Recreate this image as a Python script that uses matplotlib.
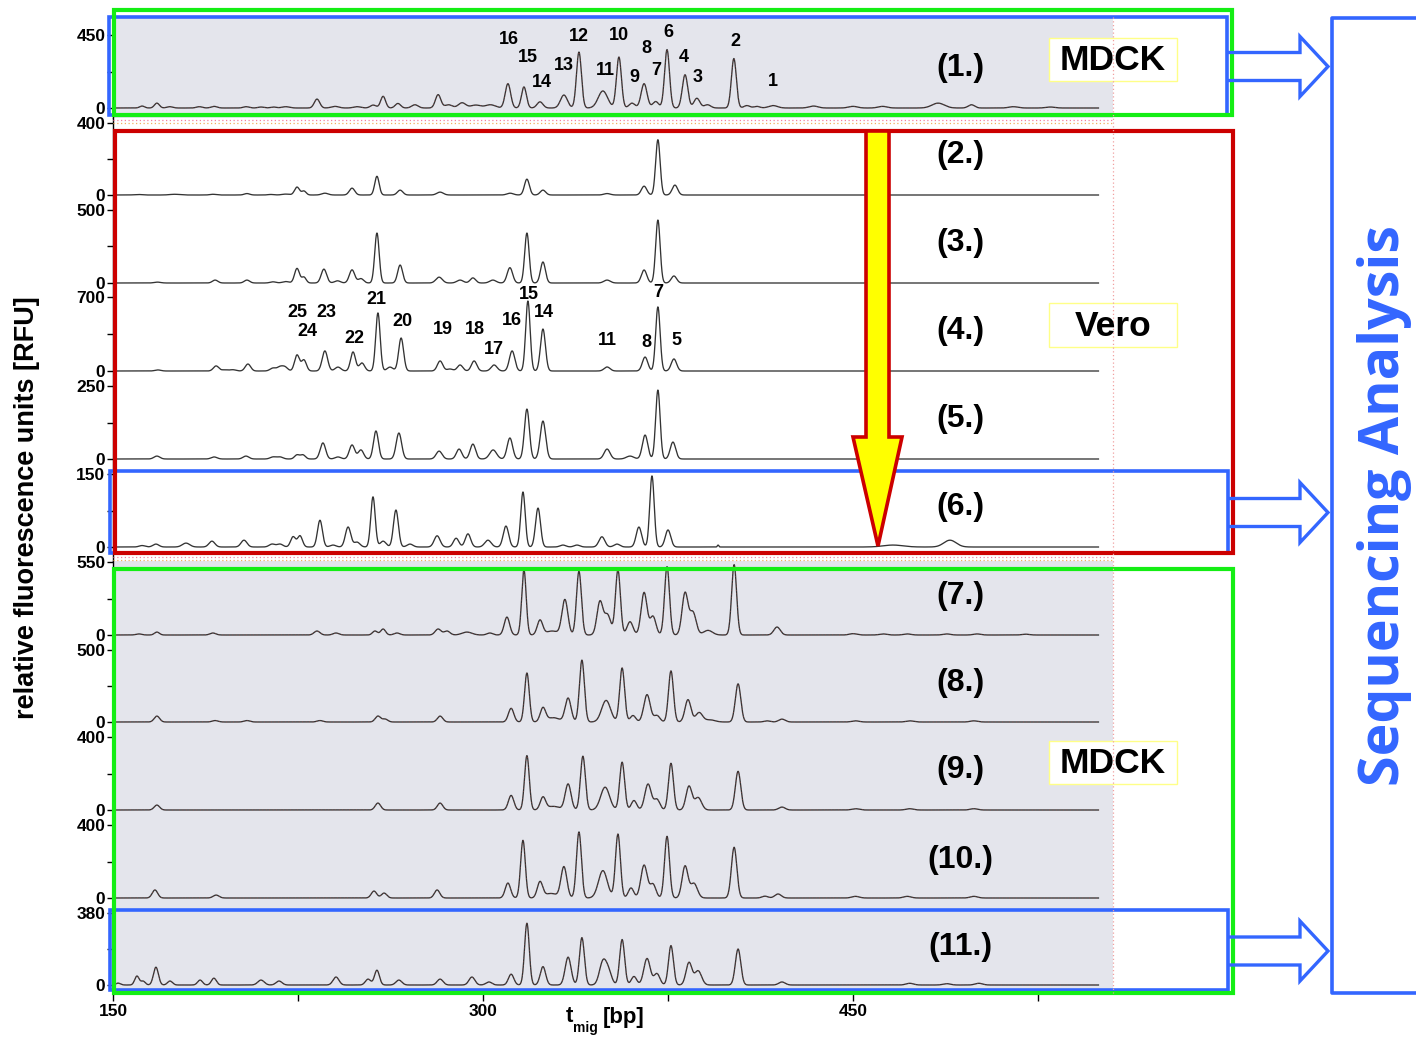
import numpy as np
import matplotlib
matplotlib.use('Agg')
import matplotlib.pyplot as plt
from matplotlib.patches import Rectangle, Polygon

plt.rcParams['font.family'] = ['Liberation Sans', 'DejaVu Sans']
plt.rcParams['font.weight'] = 'bold'

W, H = 1416, 1039

# ---------------- data ----------------
x_ticks = [150, 300, 450]
x_minor = [225, 375, 525]
x_end = 549.5

panel_names = ['(1.)', '(2.)', '(3.)', '(4.)', '(5.)', '(6.)',
               '(7.)', '(8.)', '(9.)', '(10.)', '(11.)']
y_max = [450, 400, 500, 700, 250, 150, 550, 500, 400, 400, 380]
cell_line = ['MDCK', 'Vero', 'Vero', 'Vero', 'Vero', 'Vero',
             'MDCK', 'MDCK', 'MDCK', 'MDCK', 'MDCK']

# peaks: (size [bp], height [RFU], width [bp])
peaks_1 = [(161.8, 12, 1.0), (167.8, 30, 1.0), (173, 8, 1.2), (185, 8, 1.2), (191, 10, 1.2),
           (204, 8, 1.2), (210, 6, 1.2), (215, 6, 1.2), (220, 8, 1.5), (232.7, 55, 1.1),
           (240, 10, 1.5), (249, 8, 1.5), (255.5, 18, 1.2), (259.5, 72, 1.0), (265.5, 28, 1.1),
           (272.4, 20, 1.3), (281.8, 82, 1.1), (286, 20, 1.5), (291.5, 32, 1.5), (297, 18, 2.0),
           (303, 20, 2.0), (310.1, 150, 1.1), (316.6, 130, 1.0), (323.1, 38, 1.2), (332.8, 80, 1.4),
           (338.9, 345, 1.0), (348.6, 105, 1.9), (355.1, 314, 1.0), (360.4, 30, 1.2), (365.3, 150, 1.2),
           (370, 40, 1.2), (374.6, 360, 1.0), (381.9, 205, 1.1), (386.7, 60, 1.2), (391, 20, 1.3),
           (401.7, 305, 1.0), (407, 15, 1.2), (411, 10, 1.2), (417.6, 15, 1.8), (434, 12, 1.8),
           (450, 10, 1.8), (462, 10, 1.8), (484.5, 30, 2.5), (498, 20, 1.3), (515, 8, 1.8), (530, 6, 1.8)]
peaks_2 = [(160, 3, 1.5), (175, 4, 2.0), (190.5, 4, 1.2), (204.3, 8, 1.1), (214, 3, 1.2), (220, 5, 1.5),
           (224.6, 44, 1.0), (227.4, 22, 0.9), (235.9, 10, 1.3), (246.9, 38, 1.1), (257.0, 104, 0.9),
           (266.4, 27, 1.1), (282.6, 16, 1.3), (311.0, 10, 1.3), (317.8, 88, 1.0), (324.3, 27, 1.1),
           (350.3, 8, 1.3), (365.3, 49, 1.1), (370.9, 307, 0.9), (377.8, 55, 1.1)]
peaks_3 = [(168, 6, 1.3), (191.4, 20, 1.1), (204.3, 20, 1.1), (214.9, 8, 1.2), (220, 10, 1.3),
           (224.6, 100, 1.0), (227.4, 40, 0.9), (235.5, 95, 1.1), (241, 15, 1.2), (246.9, 90, 1.1),
           (250.5, 30, 1.1), (257.0, 342, 0.9), (266.4, 123, 1.0), (282.2, 40, 1.3), (290.7, 20, 1.3),
           (295.9, 35, 1.1), (304, 20, 1.3), (310.9, 105, 1.1), (317.8, 342, 0.9), (324.3, 144, 1.0),
           (350.3, 20, 1.3), (365.3, 89, 1.1), (370.9, 431, 0.9), (377.4, 48, 1.1)]
peaks_4 = [(168.2, 10, 1.2), (191.8, 48, 1.1), (195.4, 12, 1.2), (198.6, 12, 1.2), (204.7, 66, 1.1),
           (214.9, 28, 1.2), (217.7, 37, 1.1), (219.7, 37, 1.1), (224.6, 151, 1.0), (227.4, 104, 1.0),
           (235.9, 190, 1.1), (241.2, 37, 1.2), (247.3, 180, 1.0), (250.9, 76, 1.1), (257.4, 549, 0.9),
           (262.3, 37, 1.2), (266.8, 312, 1.0), (282.6, 95, 1.1), (286.6, 19, 1.2), (290.7, 57, 1.1),
           (296.4, 95, 1.1), (304.5, 57, 1.2), (311.8, 190, 1.1), (318.2, 662, 0.9), (324.3, 397, 1.0),
           (350.3, 38, 1.2), (365.7, 132, 1.1), (370.9, 606, 0.9), (377.4, 114, 1.1)]
peaks_5 = [(167.8, 10, 1.2), (191.0, 7, 1.2), (203.9, 10, 1.2), (214.9, 7, 1.2), (217.7, 7, 1.2),
           (224.6, 14, 1.0), (227.0, 14, 1.0), (235.1, 55, 1.1), (241.2, 7, 1.2), (246.9, 48, 1.1),
           (250.5, 31, 1.1), (256.6, 96, 1.0), (265.9, 89, 1.1), (282.2, 27, 1.2), (290.3, 34, 1.1),
           (295.9, 51, 1.1), (304.1, 31, 1.4), (310.9, 72, 1.1), (317.8, 171, 1.0), (324.3, 130, 1.1),
           (350.3, 34, 1.2), (359.6, 10, 1.5), (365.7, 82, 1.1), (370.9, 236, 0.9), (377.0, 58, 1.1)]
peaks_6 = [(161.8, 3, 1.2), (167.4, 6, 1.2), (179.6, 8, 1.5), (190.1, 12, 1.2), (203.1, 14, 1.2),
           (214.5, 6, 1.2), (217.7, 6, 1.2), (223.0, 21, 1.0), (225.8, 23, 1.0), (233.9, 55, 1.0),
           (239.2, 4, 1.2), (245.3, 41, 1.1), (248.9, 10, 1.2), (255.4, 103, 0.9), (259.5, 12, 1.2),
           (264.7, 76, 1.0), (270.4, 6, 1.2), (281.4, 23, 1.2), (289.1, 18, 1.1), (293.9, 27, 1.1),
           (302.0, 14, 1.3), (309.3, 43, 1.1), (316.2, 113, 0.9), (322.3, 80, 1.0), (332.4, 4, 1.2),
           (338.1, 4, 1.2), (348.2, 21, 1.2), (354.3, 6, 1.2), (363.2, 41, 1.1), (368.5, 146, 0.9),
           (375.0, 35, 1.1), (395.3, 4, 0.3), (466.2, 4, 4.0), (489.3, 14, 2.5)]
peaks_7 = [(160.5, 8, 1.2), (167.8, 22, 1.0), (190.5, 15, 1.2), (232.7, 30, 1.2), (240.4, 15, 1.2),
           (256.2, 30, 1.0), (259.5, 45, 1.0), (265.1, 15, 1.2), (281.8, 45, 1.2), (285.4, 30, 1.2),
           (293.5, 22, 2.0), (302.8, 15, 1.2), (309.7, 135, 1.1), (316.6, 490, 0.9), (323.1, 110, 1.1),
           (328, 30, 2.5), (333.2, 265, 1.2), (338.9, 480, 1.0), (347.4, 250, 1.2), (350.5, 150, 1.3),
           (354.7, 490, 1.0), (359.6, 100, 1.2), (365.3, 320, 1.2), (368.9, 140, 1.2), (374.6, 515, 1.0),
           (381.9, 315, 1.2), (385.1, 170, 1.3), (391.2, 35, 1.8), (401.8, 530, 1.0), (419.2, 60, 1.3),
           (450, 10, 1.5), (462.2, 8, 1.5), (472, 8, 1.5), (488, 8, 1.5), (500.3, 8, 1.5), (520, 6, 1.5)]
peaks_8 = [(167.8, 41, 1.1), (191.4, 10, 1.2), (204.3, 10, 1.2), (233.9, 10, 1.2), (257.4, 41, 1.1),
           (260.3, 20, 1.1), (282.6, 41, 1.1), (311.4, 95, 1.1), (317.8, 340, 0.95), (324.3, 95, 1.1),
           (328.5, 30, 2.5), (334.5, 165, 1.2), (340.1, 430, 1.0), (349.9, 150, 1.8), (356.4, 375, 1.0),
           (360.8, 45, 1.1), (366.5, 190, 1.3), (370.5, 45, 1.2), (376.2, 355, 1.0), (383.1, 155, 1.2),
           (387.6, 65, 1.4), (392, 15, 2.0), (403.4, 265, 1.1), (415.1, 8, 1.2), (421.2, 20, 1.3),
           (451, 8, 1.5), (473, 8, 1.5), (499, 8, 1.5)]
peaks_9 = [(167.8, 27, 1.1), (257.4, 38, 1.1), (282.6, 38, 1.1), (311.4, 80, 1.1), (317.8, 298, 0.95),
           (324.3, 68, 1.1), (328.5, 20, 2.5), (334.5, 142, 1.2), (340.5, 295, 1.0), (349.5, 125, 1.8),
           (356.4, 262, 1.0), (361.2, 52, 1.1), (366.9, 142, 1.3), (370.5, 58, 1.2), (376.2, 256, 1.0),
           (383.5, 130, 1.2), (387.2, 68, 1.4), (403.4, 212, 1.1), (421.2, 16, 1.3),
           (451, 7, 1.5), (473, 7, 1.5), (499, 7, 1.5)]
peaks_10 = [(167.0, 44, 1.1), (191.8, 16, 1.2), (255.8, 38, 1.1), (259.9, 27, 1.1), (281.4, 44, 1.1),
            (310.1, 82, 1.1), (316.2, 316, 0.95), (323.1, 86, 1.1), (327.5, 25, 2.5), (332.8, 170, 1.2),
            (338.9, 362, 1.0), (348.6, 150, 1.8), (354.7, 350, 1.0), (360.0, 55, 1.1), (365.3, 180, 1.3),
            (368.9, 75, 1.2), (374.6, 338, 1.0), (381.9, 174, 1.2), (385.5, 80, 1.4), (401.8, 278, 1.1),
            (414.3, 10, 1.2), (419.6, 22, 1.3), (451, 9, 1.5), (472, 9, 1.5), (499, 9, 1.5)]
peaks_11 = [(152.0, 10, 1.0), (159.7, 47, 0.9), (162.2, 20, 0.9), (167.4, 94, 1.0), (173.1, 21, 1.0),
            (185.3, 26, 1.0), (190.9, 36, 1.0), (210.0, 26, 1.3), (217.3, 21, 1.2), (240.4, 42, 1.2),
            (253.4, 31, 1.1), (257.0, 78, 1.0), (265.9, 26, 1.2), (282.6, 31, 1.2), (295.5, 42, 1.2),
            (302.4, 16, 1.2), (311.4, 57, 1.1), (317.8, 326, 0.95), (324.3, 97, 1.1), (334.5, 147, 1.2),
            (340.1, 250, 1.0), (348.6, 120, 1.4), (350.9, 65, 1.3), (356.4, 240, 1.0), (361.2, 45, 1.1),
            (366.5, 140, 1.3), (370.5, 60, 1.2), (376.2, 208, 1.0), (383.5, 118, 1.2), (387.2, 75, 1.4),
            (403.4, 190, 1.1), (421.2, 16, 1.3), (473, 9, 1.5), (488, 7, 1.5), (501, 9, 1.5)]
all_peaks = [peaks_1, peaks_2, peaks_3, peaks_4, peaks_5, peaks_6,
             peaks_7, peaks_8, peaks_9, peaks_10, peaks_11]

# peak numbers: (label, size [bp], RFU)
labels_1 = [('16', 310.5, 425), ('15', 318.2, 314), ('14', 323.9, 160), ('13', 332.8, 265),
            ('12', 338.9, 438), ('11', 349.5, 234), ('10', 355.1, 450), ('9', 361.2, 191),
            ('8', 366.1, 364), ('7', 370.1, 234), ('6', 375.0, 468), ('4', 381.5, 314),
            ('3', 387.2, 191), ('2', 402.2, 407), ('1', 417.6, 166)]
labels_4 = [('25', 224.9, 558), ('23', 236.7, 549), ('24', 228.9, 369), ('22', 247.7, 312),
            ('21', 256.6, 681), ('20', 267.2, 464), ('19', 283.8, 397), ('18', 296.8, 397),
            ('17', 304.5, 208), ('16', 311.8, 473), ('15', 318.6, 728), ('14', 324.7, 549),
            ('11', 350.3, 284), ('8', 366.1, 274), ('7', 370.9, 747), ('5', 378.6, 284)]

# ---------------- layout (pixels) ----------------
X0, X1 = 113, 1113
BP0, BP1 = 150, 555.4
ax_top = [17, 118, 210, 297, 386, 474, 561, 650, 737, 825, 913]
ax_bot = ax_top[1:] + [994]
tick_px = [35, 123, 210, 297, 386, 474, 562, 650, 737, 825, 913]
zero_px = [108, 195, 283, 371, 459, 547, 635, 722, 810, 898, 985]
grey = '#e4e5ec'
green, red, blue = '#14ee14', '#cc0000', '#3366ff'

x = np.linspace(150, x_end, 6000)


def trace(peaks):
    y = np.zeros_like(x)
    for pos, h, s in peaks:
        y += h * np.exp(-0.5 * ((x - pos) / s) ** 2)
    return y


fig = plt.figure(figsize=(W / 100, H / 100), dpi=100)
axes = []
for i in range(11):
    top, bot = ax_top[i], ax_bot[i]
    ax = fig.add_axes([X0 / W, 1 - bot / H, (X1 - X0) / W, (bot - top) / H])
    k = y_max[i] / (zero_px[i] - tick_px[i])
    ax.set_ylim(-(bot - zero_px[i]) * k, (zero_px[i] - top) * k)
    ax.set_xlim(BP0, BP1)
    ax.set_facecolor(grey if cell_line[i] == 'MDCK' else 'white')
    y = trace(all_peaks[i])
    ax.plot(x, y, color='#333333', lw=0.95)
    if cell_line[i] == 'MDCK':
        ax.plot(x, y, color='#d05050', lw=0.5, ls=(0, (1, 4)), alpha=0.7)
    for s in ['top', 'right', 'bottom']:
        ax.spines[s].set_visible(False)
    ax.spines['left'].set_linewidth(1.0)
    ax.set_yticks([0, y_max[i] / 2, y_max[i]])
    ax.set_yticklabels(['0', '', str(y_max[i])])
    ax.tick_params(axis='y', direction='out', length=4, width=1, pad=1.5, labelsize=12.5)
    if i < 10:
        ax.set_xticks([])
    else:
        ax.set_xticks(x_ticks)
        ax.set_xticks(x_minor, minor=True)
        ax.tick_params(axis='x', which='both', direction='out', length=5, width=1,
                       pad=2, labelsize=12.5)
    axes.append(ax)

for lab, bp, v in labels_1:
    axes[0].text(bp, v, lab, ha='center', va='center', fontsize=13, fontweight='bold')
for lab, bp, v in labels_4:
    axes[3].text(bp, v, lab, ha='center', va='center', fontsize=13, fontweight='bold')

# ---------------- overlay (annotations in pixel space) ----------------
ov = fig.add_axes([0, 0, 1, 1], zorder=10)
ov.set_xlim(0, W)
ov.set_ylim(H, 0)
ov.axis('off')

# dotted frame separators
for yy, c in [(119.5, '#f080a0'), (122.5, '#f0b060'), (557, '#f080a0'), (560, '#f0b060')]:
    ov.plot([X0, X1], [yy, yy], color=c, lw=0.9, ls=(0, (1, 2)))
ov.plot([X1, X1], [17, 993], color='#f0a0a0', lw=0.9, ls=(0, (1, 2)))

# panel numbers
name_y = [68, 155, 243, 331, 419, 507, 596, 683, 770, 860, 947]
for nm, yy in zip(panel_names, name_y):
    ov.text(960, yy, nm, ha='center', va='center', fontsize=23, fontweight='bold')

# blue boxes
for (x0, y0, x1, y1) in [(109, 17, 1227, 115), (110, 470.5, 1228, 553), (109.5, 910, 1227.5, 990)]:
    ov.add_patch(Rectangle((x0, y0), x1 - x0, y1 - y0, fill=False, ec=blue, lw=2.6))
# green and red boxes
ov.add_patch(Rectangle((113.5, 10), 1232 - 113.5, 115 - 10, fill=False, ec=green, lw=3.0))
ov.add_patch(Rectangle((114.5, 130.5), 1233 - 114.5, 553 - 130.5, fill=False, ec=red, lw=3.0))
ov.add_patch(Rectangle((114, 569), 1232.5 - 114, 992.5 - 569, fill=False, ec=green, lw=3.0))

# hollow arrows to sequencing bracket
for yc in [66.5, 512.5, 951]:
    xs = [1229, 1300, 1300, 1328, 1300, 1300, 1229]
    ys = [yc - 14, yc - 14, yc - 30, yc, yc + 30, yc + 14, yc + 14]
    ov.plot(xs, ys, color=blue, lw=2.4, solid_joinstyle='miter')

# sequencing bracket
ov.plot([1420, 1331.5, 1331.5, 1420], [18, 18, 993, 993], color=blue, lw=2.6)
ov.text(1385, 505, 'Sequencing Analysis', rotation=90, ha='center', va='center',
        fontsize=40, fontweight='bold', color=blue, family=['Open Sans', 'DejaVu Sans'])

# yellow arrow
arrow = Polygon([(866, 131), (889, 131), (889, 437), (902, 437), (878, 546),
                 (853, 437), (866, 437)], closed=True, fc='#ffff00', ec=red, lw=2.6,
                joinstyle='miter')
ov.add_patch(arrow)

# cell line boxes
for txt, y0, y1 in [('MDCK', 38, 81), ('Vero', 303, 347), ('MDCK', 741, 784)]:
    ov.add_patch(Rectangle((1049, y0), 128, y1 - y0, fc='white', ec='#ffff88', lw=1.0))
    ov.text(1113, (y0 + y1) / 2 + 1, txt, ha='center', va='center', fontsize=25.5,
            fontweight='bold')

# axis labels
ov.text(27, 508, 'relative fluorescence units [RFU]', rotation=90, ha='center',
        va='center', fontsize=19.5, fontweight='bold')
ov.text(566, 1017, 't', ha='left', va='center', fontsize=16, fontweight='bold')
ov.text(573, 1028, 'mig', ha='left', va='center', fontsize=10, fontweight='bold')
ov.text(603, 1017, '[bp]', ha='left', va='center', fontsize=16, fontweight='bold')

fig.savefig('out.png', dpi=100)
